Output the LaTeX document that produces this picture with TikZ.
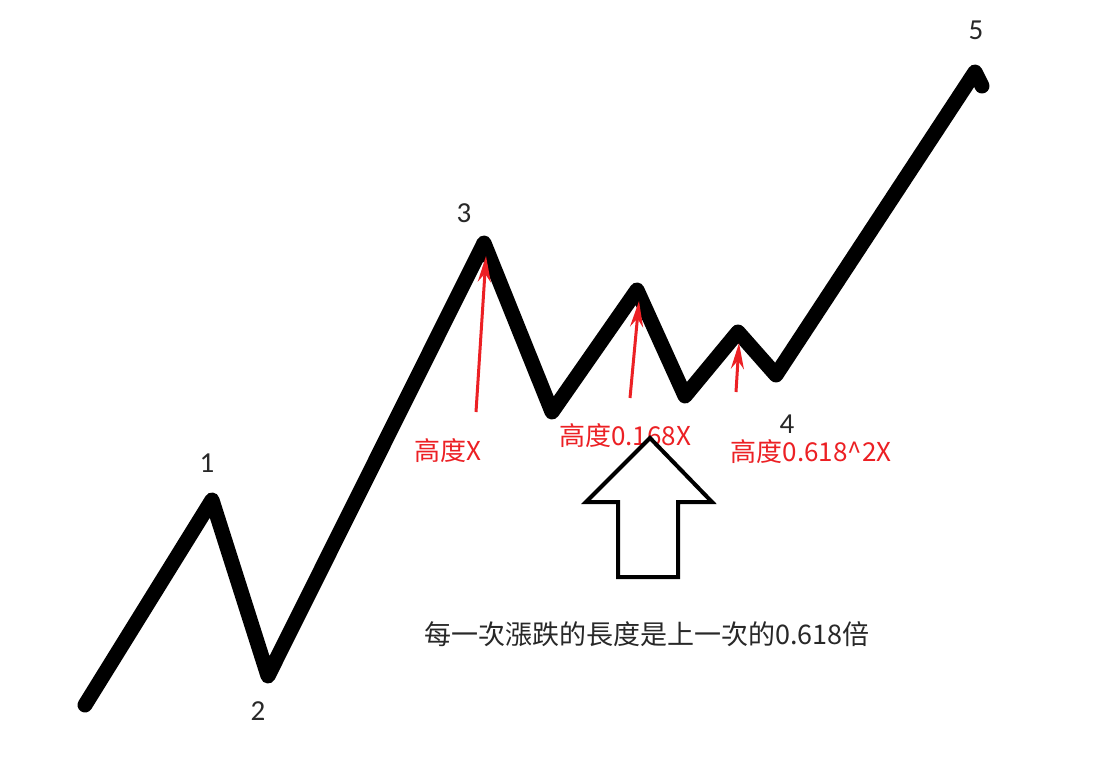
\documentclass[tikz,border=0pt]{standalone}
\usepackage{fontspec}
\setmainfont{Carlito}
\newfontfamily\cjkfont{Noto Sans CJK TC}
\usetikzlibrary{
    arrows.meta,
    positioning
}
\definecolor{WaveInk}{RGB}{0,0,0}
\definecolor{MarkRed}{RGB}{236,32,36}
\definecolor{NoteGray}{RGB}{40,40,40}
\tikzset{
  wave/.style    = {WaveInk, line width=15pt, line join=round, line cap=round},
  wavelbl/.style = {text=NoteGray, font=\fontsize{29}{29}\selectfont},
  hgt/.style     = {MarkRed, line width=3pt,
                    -{Stealth[length=26pt, width=13pt]}},
  hgtlbl/.style  = {text=MarkRed, font=\cjkfont\fontsize{26}{26}\selectfont},
  bigarr/.style  = {draw=WaveInk, line width=4pt, line join=miter, fill=white},
  note/.style    = {text=NoteGray, font=\cjkfont\fontsize{27}{27}\selectfont}
}

\begin{document}
\begin{tikzpicture}[x=1pt, y=-1pt]
\useasboundingbox[fill=white] (0,0) rectangle (1116,771);
% wave points
\coordinate (p0) at (85,705);
\coordinate (p1) at (212,500);
\coordinate (p2) at (268,676);
\coordinate (p3) at (484,243);
\coordinate (t1) at (552,412);
\coordinate (c1) at (637,290);
\coordinate (t2) at (685,396);
\coordinate (c2) at (738,332);
\coordinate (p4) at (776,375);
\coordinate (p5) at (975,72);
\coordinate (p5e) at (982,86);
\draw[wave] (p0) -- (p1) -- (p2) -- (p3) -- (t1) -- (c1) -- (t2)
  -- (c2) -- (p4) -- (p5) -- (p5e);

% wave numbers
\node[wavelbl] (n1) at (207,463) {1};
\node[wavelbl] (n2) at (258,711) {2};
\node[wavelbl] (n3) at (464,213) {3};
\node[wavelbl] (n4) at (787,424) {4};
\node[wavelbl] (n5) at (976,30) {5};

% heights
\coordinate (h1) at (476,412);
\coordinate (h1e) at (486,256);
\coordinate (h2) at (630,398);
\coordinate (h2e) at (639,301);
\coordinate (h3) at (736,392);
\coordinate (h3e) at (739,343);
\draw[hgt] (h1) -- (h1e);
\draw[hgt] (h2) -- (h2e);
\draw[hgt] (h3) -- (h3e);
\node[hgtlbl] (l1) at (448,451) {高度X};
\node[hgtlbl] (l2) at (625,436) {高度0.168X};
\node[hgtlbl] (l3) at (811,452) {高度0.618\^{}2X};

% up arrow
\draw[bigarr] (650,438) -- (712,502) -- (678,502) -- (678,577)
  -- (618,577) -- (618,502) -- (586,502) -- cycle;

\node[note] (cap) at (647,634) {每一次漲跌的長度是上一次的0.618倍};
\end{tikzpicture}
\end{document}
